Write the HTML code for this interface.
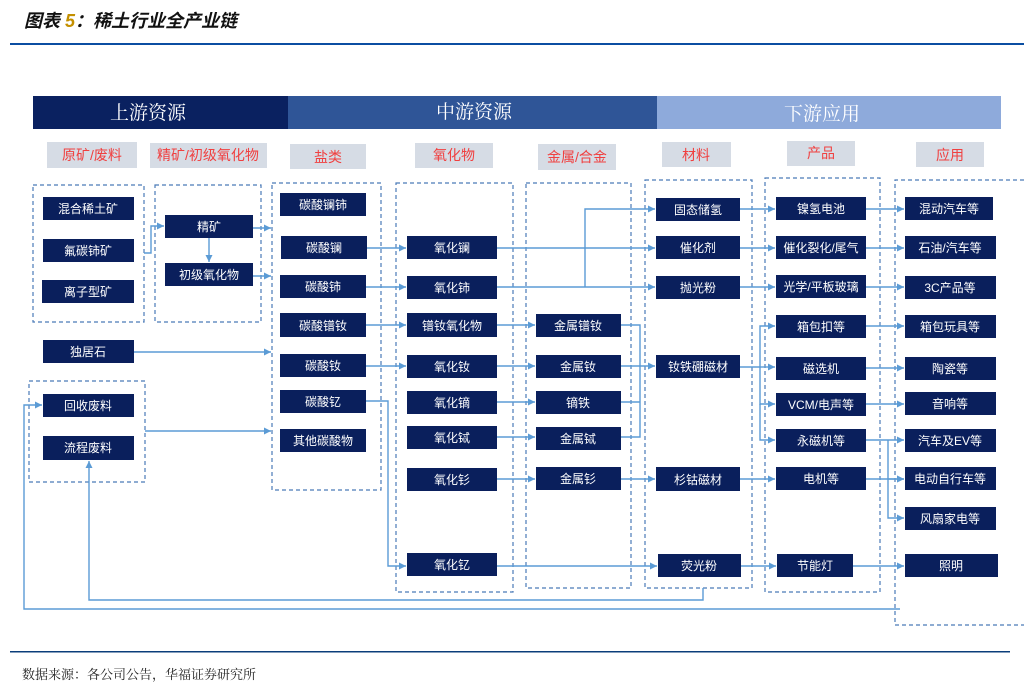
<!DOCTYPE html>
<html><head><meta charset="utf-8"><style>
body{margin:0;background:#fff;width:1024px;height:692px;overflow:hidden;font-family:"Liberation Sans","Noto Sans CJK SC",sans-serif}
svg text{font-family:"Liberation Sans","Noto Sans CJK SC",sans-serif}
svg text.sf{font-family:"Liberation Serif","Noto Serif CJK SC",serif}
</style></head><body>
<svg width="1024" height="692" viewBox="0 0 1024 692" xmlns="http://www.w3.org/2000/svg">
<defs><marker id="a" markerWidth="8" markerHeight="8" refX="7" refY="4" orient="auto" markerUnits="userSpaceOnUse"><path d="M0,0.5 L7,4 L0,7.5 z" fill="#5b9bd5"/></marker></defs>
<text x="24" y="27" font-size="18" font-weight="bold" font-style="italic" fill="#111">图表 <tspan fill="#c49000">5</tspan>：稀土行业全产业链</text>
<rect x="10" y="43" width="1014" height="2" fill="#0b4ea2"/>
<rect x="33" y="96" width="255" height="33" fill="#0a2160"/>
<rect x="288" y="96" width="369" height="33" fill="#2f5597"/>
<rect x="657" y="96" width="344" height="33" fill="#8eaadb"/>
<g font-size="19" fill="#fff" text-anchor="middle"><text class="sf" x="148" y="119">上游资源</text><text class="sf" x="474" y="118">中游资源</text><text class="sf" x="822" y="120">下游应用</text></g>
<g fill="#d6dce5"><rect x="47" y="142" width="90" height="26"/><rect x="150" y="143" width="117" height="25"/><rect x="290" y="144" width="76" height="25"/><rect x="415" y="143" width="78" height="25"/><rect x="538" y="144" width="78" height="26"/><rect x="662" y="142" width="69" height="25"/><rect x="787" y="141" width="68" height="25"/><rect x="916" y="142" width="68" height="25"/></g>
<g font-size="14" fill="#f04040" text-anchor="middle"><text x="92" y="160">原矿/废料</text><text x="208" y="160">精矿/初级氧化物</text><text x="328" y="162">盐类</text><text x="454" y="160">氧化物</text><text x="577" y="162">金属/合金</text><text x="696" y="160">材料</text><text x="821" y="158">产品</text><text x="950" y="160">应用</text></g>
<g fill="none" stroke="#4a7ab8" stroke-width="1.2" stroke-dasharray="4,3"><rect x="33" y="185" width="111" height="137"/><rect x="155" y="185" width="106" height="137"/><rect x="272" y="183" width="109" height="307"/><rect x="396" y="183" width="117" height="409"/><rect x="526" y="183" width="105" height="405"/><rect x="645" y="180" width="107" height="408"/><rect x="765" y="178" width="115" height="414"/><path d="M1024,180 H895 V625 H1024"/><rect x="29" y="381" width="116" height="101"/></g>
<g fill="none" stroke="#5b9bd5" stroke-width="1.4">
<path d="M144,253 H151 V226 H164" marker-end="url(#a)"/><path d="M209,238 V262" marker-end="url(#a)"/>
<path d="M253,228 H271" marker-end="url(#a)"/><path d="M253,276 H271" marker-end="url(#a)"/>
<path d="M134,352 H271" marker-end="url(#a)"/><path d="M145,431 H271" marker-end="url(#a)"/>
<path d="M367,248 H406" marker-end="url(#a)"/><path d="M366,287 H406" marker-end="url(#a)"/><path d="M366,325 H406" marker-end="url(#a)"/><path d="M366,366 H406" marker-end="url(#a)"/>
<path d="M366,401 H388 V566 H406" marker-end="url(#a)"/>
<path d="M497,248 H655" marker-end="url(#a)"/><path d="M497,287 H655" marker-end="url(#a)"/><path d="M585,287 V209 H655" marker-end="url(#a)"/>
<path d="M497,325 H535" marker-end="url(#a)"/><path d="M497,366 H535" marker-end="url(#a)"/><path d="M497,402 H535" marker-end="url(#a)"/><path d="M497,437 H535" marker-end="url(#a)"/><path d="M497,479 H535" marker-end="url(#a)"/>
<path d="M621,325 H640 V437 H621 M621,402 H640"/><path d="M621,366 H655" marker-end="url(#a)"/><path d="M621,479 H655" marker-end="url(#a)"/><path d="M497,566 H657" marker-end="url(#a)"/>
<path d="M740,209 H775" marker-end="url(#a)"/><path d="M740,248 H775" marker-end="url(#a)"/><path d="M740,287 H775" marker-end="url(#a)"/>
<path d="M740,367 H760 V326 H775" marker-end="url(#a)"/><path d="M760,367 H775" marker-end="url(#a)"/><path d="M760,367 V404 H775" marker-end="url(#a)"/><path d="M760,404 V440 H775" marker-end="url(#a)"/>
<path d="M740,479 H775" marker-end="url(#a)"/><path d="M741,566 H776" marker-end="url(#a)"/>
<path d="M866,209 H904" marker-end="url(#a)"/><path d="M866,248 H904" marker-end="url(#a)"/><path d="M866,287 H904" marker-end="url(#a)"/><path d="M866,326 H904" marker-end="url(#a)"/><path d="M866,368 H904" marker-end="url(#a)"/><path d="M866,404 H904" marker-end="url(#a)"/><path d="M866,440 H904" marker-end="url(#a)"/><path d="M866,479 H904" marker-end="url(#a)"/><path d="M853,566 H904" marker-end="url(#a)"/>
<path d="M888,440 V518 H904" marker-end="url(#a)"/><path d="M888,479 H904" marker-end="url(#a)"/>
<path d="M900,609 H24 V405 H42" marker-end="url(#a)"/><path d="M703,588 V600 H89 V461" marker-end="url(#a)"/>
</g>
<g fill="#0a1f5c">
<rect x="43" y="197" width="91" height="23"/><rect x="43" y="239" width="91" height="23"/><rect x="42" y="280" width="92" height="23"/>
<rect x="165" y="215" width="88" height="23"/><rect x="165" y="263" width="88" height="23"/>
<rect x="280" y="193" width="86" height="23"/><rect x="281" y="236" width="86" height="23"/><rect x="280" y="275" width="86" height="23"/><rect x="280" y="313" width="86" height="24"/><rect x="280" y="354" width="86" height="23"/><rect x="280" y="390" width="86" height="23"/><rect x="280" y="429" width="86" height="23"/>
<rect x="43" y="340" width="91" height="23"/><rect x="43" y="394" width="91" height="23"/><rect x="43" y="436" width="91" height="24"/>
<rect x="407" y="236" width="90" height="23"/><rect x="407" y="276" width="90" height="23"/><rect x="407" y="313" width="90" height="24"/><rect x="407" y="355" width="90" height="23"/><rect x="407" y="391" width="90" height="23"/><rect x="407" y="426" width="90" height="23"/><rect x="407" y="468" width="90" height="23"/><rect x="407" y="553" width="90" height="23"/>
<rect x="536" y="314" width="85" height="23"/><rect x="536" y="355" width="85" height="23"/><rect x="536" y="391" width="85" height="23"/><rect x="536" y="427" width="85" height="23"/><rect x="536" y="467" width="85" height="23"/>
<rect x="656" y="198" width="84" height="23"/><rect x="656" y="236" width="84" height="23"/><rect x="656" y="276" width="84" height="23"/><rect x="656" y="355" width="84" height="23"/><rect x="656" y="467" width="84" height="24"/><rect x="658" y="554" width="83" height="23"/>
<rect x="776" y="197" width="90" height="23"/><rect x="776" y="236" width="90" height="23"/><rect x="776" y="275" width="90" height="23"/><rect x="776" y="315" width="90" height="23"/><rect x="776" y="357" width="90" height="23"/><rect x="776" y="393" width="90" height="23"/><rect x="776" y="429" width="90" height="23"/><rect x="776" y="467" width="90" height="23"/><rect x="777" y="554" width="76" height="23"/>
<rect x="905" y="197" width="88" height="23"/><rect x="905" y="236" width="91" height="23"/><rect x="905" y="276" width="91" height="23"/><rect x="905" y="315" width="91" height="23"/><rect x="905" y="357" width="91" height="23"/><rect x="905" y="392" width="91" height="23"/><rect x="905" y="429" width="91" height="23"/><rect x="905" y="467" width="91" height="23"/><rect x="905" y="507" width="91" height="23"/><rect x="905" y="554" width="93" height="23"/>
</g>
<g font-size="12" fill="#fff" text-anchor="middle">
<text x="88" y="213">混合稀土矿</text><text x="88" y="255">氟碳铈矿</text><text x="88" y="296">离子型矿</text>
<text x="209" y="231">精矿</text><text x="209" y="279">初级氧化物</text>
<text x="323" y="209">碳酸镧铈</text><text x="324" y="252">碳酸镧</text><text x="323" y="291">碳酸铈</text><text x="323" y="330">碳酸镨钕</text><text x="323" y="370">碳酸钕</text><text x="323" y="406">碳酸钇</text><text x="323" y="445">其他碳酸物</text>
<text x="88" y="356">独居石</text><text x="88" y="410">回收废料</text><text x="88" y="452">流程废料</text>
<text x="452" y="252">氧化镧</text><text x="452" y="292">氧化铈</text><text x="452" y="330">镨钕氧化物</text><text x="452" y="371">氧化钕</text><text x="452" y="407">氧化镝</text><text x="452" y="442">氧化铽</text><text x="452" y="484">氧化钐</text><text x="452" y="569">氧化钇</text>
<text x="578" y="330">金属镨钕</text><text x="578" y="371">金属钕</text><text x="578" y="407">镝铁</text><text x="578" y="443">金属铽</text><text x="578" y="483">金属钐</text>
<text x="698" y="214">固态储氢</text><text x="698" y="252">催化剂</text><text x="698" y="292">抛光粉</text><text x="698" y="371">钕铁硼磁材</text><text x="698" y="484">杉钴磁材</text><text x="699" y="570">荧光粉</text>
<text x="821" y="213">镍氢电池</text><text x="821" y="252">催化裂化/尾气</text><text x="821" y="291">光学/平板玻璃</text><text x="821" y="331">箱包扣等</text><text x="821" y="373">磁选机</text><text x="821" y="409">VCM/电声等</text><text x="821" y="445">永磁机等</text><text x="821" y="483">电机等</text><text x="815" y="570">节能灯</text>
<text x="949" y="213">混动汽车等</text><text x="950" y="252">石油/汽车等</text><text x="950" y="292">3C产品等</text><text x="950" y="331">箱包玩具等</text><text x="950" y="373">陶瓷等</text><text x="950" y="408">音响等</text><text x="950" y="445">汽车及EV等</text><text x="950" y="483">电动自行车等</text><text x="950" y="523">风扇家电等</text><text x="951" y="570">照明</text>
</g>
<rect x="10" y="651" width="1000" height="1.5" fill="#0b3d7a"/>
<text class="sf" x="22" y="679" font-size="13" fill="#222">数据来源：各公司公告，华福证券研究所</text>
</svg>
</body></html>
